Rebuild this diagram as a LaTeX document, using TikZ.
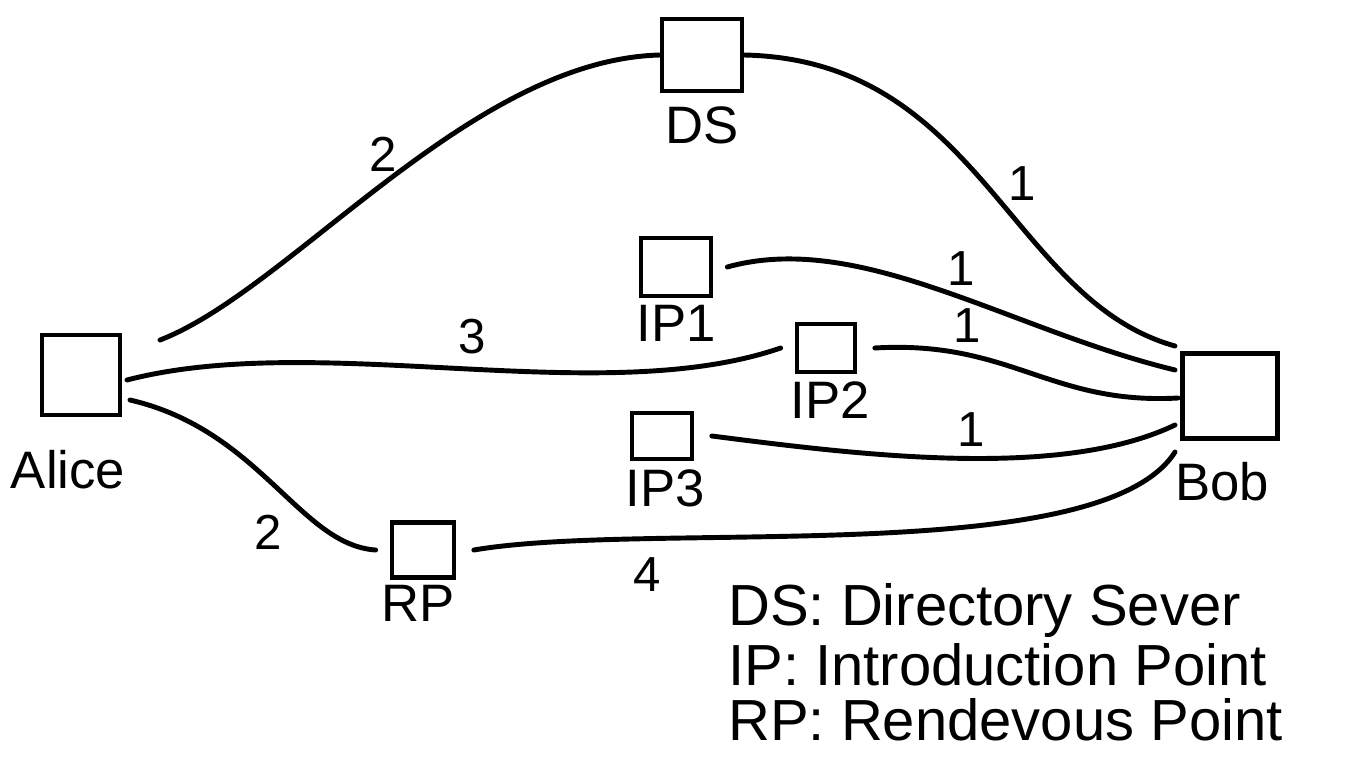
\documentclass[tikz,border=0pt]{standalone}
\usepackage{fontspec}
\setmainfont{Liberation Sans}
\begin{document}
\begin{tikzpicture}[x=0.02cm,y=-0.02cm,
  box/.style={draw,line width=2.6pt,inner sep=0pt},
  lbl/.style={font=\fontsize{30}{34}\selectfont},
  num/.style={font=\fontsize{28}{32}\selectfont},
  leg/.style={font=\fontsize{33}{38}\selectfont,anchor=west,inner sep=0pt},
  wire/.style={line width=2.8pt,line cap=round}]
\useasboundingbox (0,0) rectangle (1366,768);
% boxes
\node[box,minimum width=1.56cm,minimum height=1.6cm] (alice) at (81,375) {};
\node[box,minimum width=1.6cm,minimum height=1.44cm] (ds) at (702,55) {};
\node[box,minimum width=1.4cm,minimum height=1.16cm] (ip1) at (676,267) {};
\node[box,minimum width=1.16cm,minimum height=0.96cm] (ip2) at (826,348) {};
\node[box,minimum width=1.2cm,minimum height=0.92cm] (ip3) at (662,436) {};
\node[box,minimum width=1.9cm,minimum height=1.7cm] (bob) at (1230,396) {};
\node[box,minimum width=1.24cm,minimum height=1.1cm] (rp) at (423,550) {};
% labels
\node[lbl] (alicel) at (68,470) {Alice};
\node[lbl] (dsl) at (702,125) {DS};
\node[lbl] (ip1l) at (676,323) {IP1};
\node[lbl] (ip2l) at (830,400) {IP2};
\node[lbl] (ip3l) at (665,488) {IP3};
\node[lbl] (bobl) at (1222,482) {Bob};
\node[lbl] (rpl) at (418,603) {RP};
% connector end points
\coordinate (a1) at (160,340);
\coordinate (a2) at (127,380);
\coordinate (a3) at (130,400);
\coordinate (b1) at (1175,346);
\coordinate (b2) at (1175,370);
\coordinate (b3) at (1178,398);
\coordinate (b4) at (1175,425);
\coordinate (b5) at (1175,452);
% connectors
\draw[wire] (a1) .. controls (290,290) and (470,60) .. (ds.west) node[num,pos=0.52,above left=-4pt] (n1) {2};
\draw[wire] (ds.east) .. controls (980,60) and (1010,300) .. (b1) node[num,pos=0.55,above right=-2pt] (n2) {1};
\draw[wire] ([xshift=8pt]ip1.east) .. controls (860,230) and (1010,330) .. (b2) node[num,pos=0.55,above=2pt] (n3) {1};
\draw[wire] (a2) .. controls (320,330) and (600,410) .. ([xshift=-8pt]ip2.west) node[num,pos=0.52,above=4pt] (n4) {3};
\draw[wire] ([xshift=10pt]ip2.east) .. controls (1010,340) and (1050,405) .. (b3) node[num,pos=0.27,above=2pt] (n5) {1};
\draw[wire] ([xshift=10pt]ip3.east) .. controls (860,455) and (1060,480) .. (b4) node[num,pos=0.53,above=2pt] (n6) {1};
\draw[wire] (a3) .. controls (260,430) and (300,545) .. ([xshift=-8pt]rp.west) node[num,pos=0.6,below left=2pt] (n7) {2};
\draw[wire] ([xshift=10pt]rp.east) .. controls (650,520) and (1100,570) .. (b5) node[num,pos=0.25,below=6pt] (n8) {4};
% legend
\node[leg] (leg1) at (728,610) {DS: Directory Sever};
\node[leg] (leg2) at (728,665) {IP: Introduction Point};
\node[leg] (leg3) at (728,720) {RP: Rendevous Point};
\end{tikzpicture}
\end{document}
